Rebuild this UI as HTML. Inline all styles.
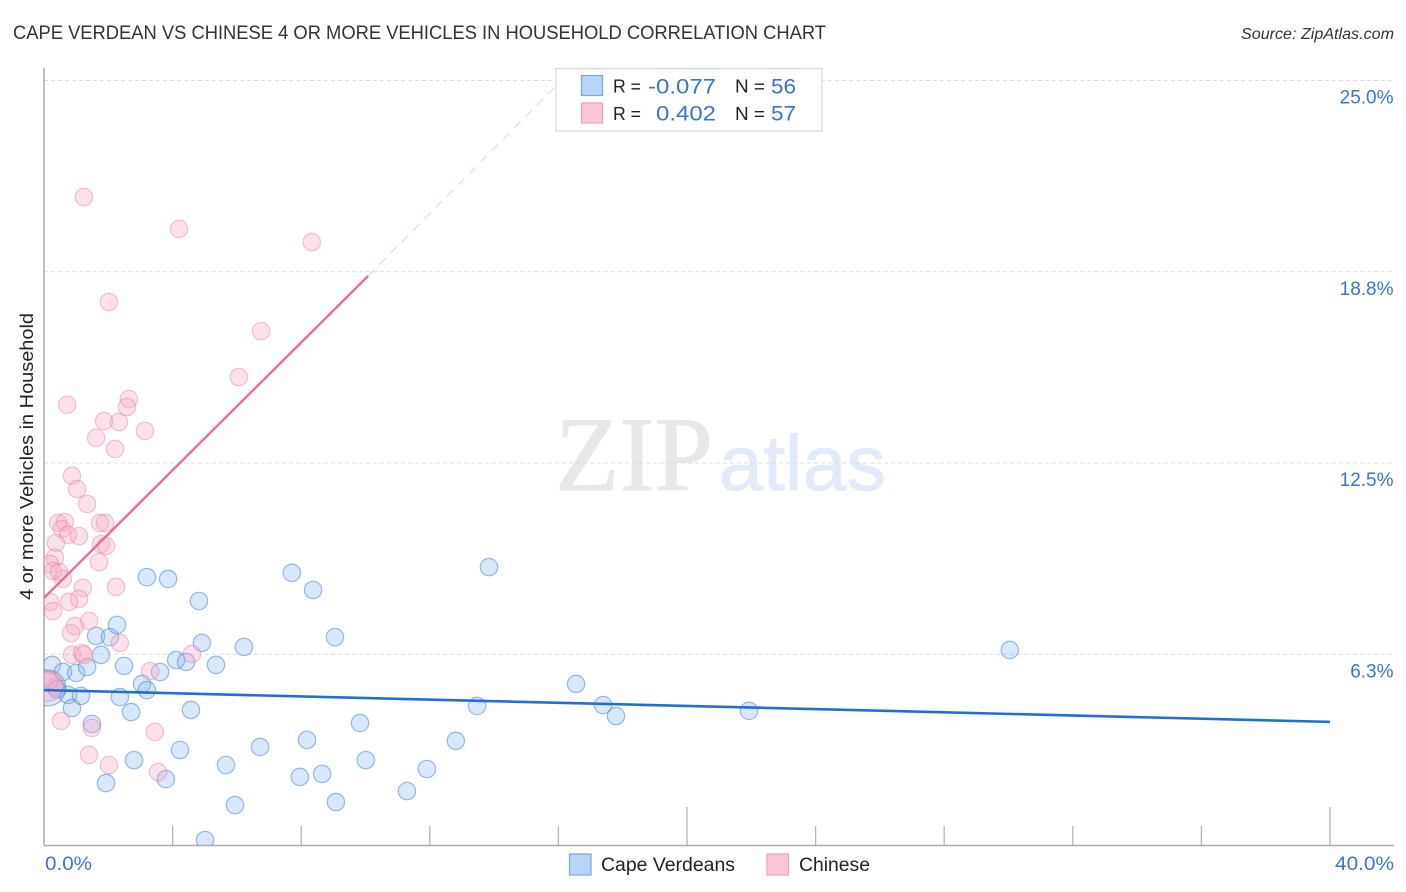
<!DOCTYPE html>
<html>
<head>
<meta charset="utf-8">
<style>
html,body{margin:0;padding:0;background:#fff;width:1406px;height:892px;overflow:hidden}
svg{display:block;font-family:"Liberation Sans",sans-serif}
</style>
</head>
<body>
<svg id="chart" width="1406" height="892" viewBox="0 0 1406 892" xmlns="http://www.w3.org/2000/svg">
  <defs><clipPath id="plot-clip"><rect x="44" y="68" width="1350" height="777"/></clipPath></defs>
  <text x="13" y="39" font-size="19" fill="#333" textLength="813" lengthAdjust="spacingAndGlyphs">CAPE VERDEAN VS CHINESE 4 OR MORE VEHICLES IN HOUSEHOLD CORRELATION CHART</text>
  <text x="1241" y="39" font-size="15.5" font-style="italic" fill="#333" textLength="153" lengthAdjust="spacingAndGlyphs">Source: ZipAtlas.com</text>
  <g>
    <text x="555" y="490" font-family="'Liberation Serif',serif" font-size="106" fill="#e8e8e8" stroke="#e8e8e8" stroke-width="1" textLength="158" lengthAdjust="spacingAndGlyphs">ZIP</text>
    <text x="719" y="490" font-size="78" fill="#e2ebfa" stroke="#e2ebfa" stroke-width="0.8" textLength="167" lengthAdjust="spacingAndGlyphs">atlas</text>
  </g>
  <g id="grid"></g>
  <g id="ticks"></g>
  <line x1="44" y1="68" x2="44" y2="845" stroke="#aaa" stroke-width="1.5"/>
  <line x1="44" y1="845.5" x2="1394" y2="845.5" stroke="#aaa" stroke-width="1.5"/>
  <g id="marks" clip-path="url(#plot-clip)"></g>
  <text transform="translate(33,600) rotate(-90)" x="0" y="0" font-size="18.5" fill="#222" textLength="287" lengthAdjust="spacingAndGlyphs">4 or more Vehicles in Household</text>
  <text x="45" y="870" font-size="19" fill="#3b74d0" textLength="47" lengthAdjust="spacingAndGlyphs">0.0%</text>
  <text x="1335" y="870" font-size="19" fill="#3b74d0" textLength="59" lengthAdjust="spacingAndGlyphs">40.0%</text>
  <g id="ylabels"></g>

  <g>
    <rect x="556" y="68.5" width="266" height="62.5" fill="#fff" stroke="#d8d8d8" stroke-width="1.2"/>
    <rect x="581.5" y="75.5" width="21" height="20" fill="#b8d4f8" stroke="#7aa7e0" stroke-width="1.2"/>
    <rect x="581.5" y="103" width="21" height="20" fill="#fcc6d8" stroke="#f0a0bc" stroke-width="1.2"/>
    <text x="613" y="92.5" font-size="18" fill="#222" textLength="28" lengthAdjust="spacingAndGlyphs">R =</text>
    <text x="648" y="93.5" font-size="21" fill="#3b74d0" textLength="68" lengthAdjust="spacingAndGlyphs">-0.077</text>
    <text x="735" y="92.5" font-size="18" fill="#222" textLength="30" lengthAdjust="spacingAndGlyphs">N =</text>
    <text x="771" y="93.5" font-size="21" fill="#3b74d0" textLength="25" lengthAdjust="spacingAndGlyphs">56</text>
    <text x="613" y="120" font-size="18" fill="#222" textLength="28" lengthAdjust="spacingAndGlyphs">R =</text>
    <text x="656" y="120.5" font-size="21" fill="#3b74d0" textLength="60" lengthAdjust="spacingAndGlyphs">0.402</text>
    <text x="735" y="120" font-size="18" fill="#222" textLength="30" lengthAdjust="spacingAndGlyphs">N =</text>
    <text x="771" y="120.5" font-size="21" fill="#3b74d0" textLength="25" lengthAdjust="spacingAndGlyphs">57</text>
  </g>

  <g>
    <rect x="569.5" y="854" width="21.5" height="21" fill="#b8d4f8" stroke="#7aa7e0" stroke-width="1.2"/>
    <text x="601" y="871" font-size="19" fill="#222" textLength="134" lengthAdjust="spacingAndGlyphs">Cape Verdeans</text>
    <rect x="767" y="854" width="21.5" height="21" fill="#fcc6d8" stroke="#f0a0bc" stroke-width="1.2"/>
    <text x="799" y="871" font-size="19" fill="#222" textLength="71" lengthAdjust="spacingAndGlyphs">Chinese</text>
  </g>
</svg>
<script>
// Series values: x = Cape Verdean %, y = 4+ vehicle households %
const blueX = [0.12,0.25,0.59,1.00,1.34,1.77,1.62,2.05,2.27,2.49,0.75,1.15,0.40,0.87,2.36,2.71,3.05,3.20,3.61,4.11,4.42,4.91,5.35,6.22,4.57,1.49,2.80,4.23,3.79,1.93,5.66,6.72,5.94,5.01,3.20,3.86,4.82,7.71,8.37,9.05,13.84,30.04,16.55,17.39,17.79,21.93,13.47,9.83,8.18,12.81,10.01,11.91,7.96,8.65,9.08,11.29];
const blueY = [5.15,5.90,5.67,5.64,5.83,6.23,6.85,6.81,7.21,5.87,4.92,4.89,5.11,4.49,4.85,4.36,5.28,5.08,5.67,6.06,6.00,6.62,5.90,6.49,4.43,3.97,2.79,3.12,2.17,2.04,2.63,3.22,1.32,0.18,8.77,8.71,7.99,8.91,8.35,6.81,9.10,6.39,5.28,4.59,4.23,4.40,4.56,4.00,3.45,3.42,2.79,2.50,2.24,2.34,1.42,1.78];
const pinkX = [1.34,0.44,0.65,0.56,0.75,1.09,1.74,1.90,0.37,1.77,1.93,1.71,0.34,0.19,0.28,0.47,0.59,2.24,1.21,1.09,0.78,0.19,0.28,1.40,0.96,0.84,2.36,0.87,1.18,1.24,4.60,3.30,0.34,0.19,0.53,1.49,3.45,1.40,2.02,3.55,1.24,4.20,8.33,2.02,6.75,6.06,0.72,2.64,2.58,1.87,2.33,3.14,1.62,2.21,0.87,1.03,0.12];
const pinkY = [11.16,10.54,10.57,10.34,10.15,10.11,10.54,10.54,9.89,9.85,9.79,9.26,9.40,9.20,8.97,8.94,8.71,8.45,8.42,8.06,7.96,7.96,7.66,7.34,7.17,6.94,6.62,6.23,6.29,6.23,6.26,5.70,5.18,5.41,4.07,3.84,3.71,2.96,2.63,2.40,21.19,20.15,19.72,17.76,16.81,15.31,14.40,14.59,14.33,13.87,13.84,13.55,13.32,12.96,12.08,11.65,5.21];
// Relative bubble weight (population); unspecified points are 1
const blueWeight = [4.3];
const pinkWeight = [1,1,1,1,1,1,1,1,1,1,1,1,1,1,1,1,1,1,1,1,1,1,1,1,1,1,1,1,1,1,1,1,1,1,1,1,1,1,1,1,1,1,1,1,1,1,1,1,1,1,1,1,1,1,1,1,3];
// Regression lines: [x start, y start, x end, y end]
const blueTrend = [0, 5.08, 40, 4.04];
const pinkTrend = [0, 8.09, 10.08, 18.61];
const pinkTrendExtension = [10.08, 18.61, 15.95, 24.85];
// Axis ticks
const yTicks = [25, 18.75, 12.5, 6.25];
const yTickLabels = ['25.0%','18.8%','12.5%','6.3%'];
const xTicks = [4,8,12,16,20,24,28,32,36,40];
const xTallTicks = [20,40];

const NS = 'http://www.w3.org/2000/svg';
const xScale = v => 44 + v * 32.15;
const yScale = v => 845.5 - v * 30.6;
function make(tag, attrs, parent) {
  const el = document.createElementNS(NS, tag);
  for (const k in attrs) el.setAttribute(k, attrs[k]);
  parent.appendChild(el);
  return el;
}
const gridG = document.getElementById('grid');
const ticksG = document.getElementById('ticks');
const marksG = document.getElementById('marks');
const ylabG = document.getElementById('ylabels');

yTicks.forEach((t, i) => {
  const g = make('line', {x1: 44, x2: 1394, y1: yScale(t), y2: yScale(t), stroke: '#dcdcdc', 'stroke-width': 1, 'stroke-dasharray': '4 3'}, gridG);
  
  
  const lab = make('text', {x: 1393.5, y: yScale(t) + 23, 'text-anchor': 'end', 'font-size': 19, fill: '#3b74d0'}, ylabG);
  lab.textContent = yTickLabels[i];
  
  
});

xTicks.forEach(t => {
  const tall = xTallTicks.includes(t);
  const k = make('line', {x1: xScale(t), x2: xScale(t), y1: tall ? 807 : 826, y2: 845, stroke: '#b5b5b5', 'stroke-width': 1.3}, ticksG);
  
  
});

function drawPoints(xs, ys, weights, fill, stroke, name) {
  xs.forEach((x, i) => {
    const w = weights[i] === undefined ? 1 : weights[i];
    const c = make('circle', {cx: xScale(x), cy: yScale(ys[i]), r: 8.7 * Math.sqrt(w), fill: fill, stroke: stroke, 'stroke-width': 1.2}, marksG);
    
    
  });
}
drawPoints(blueX, blueY, blueWeight, 'rgba(130,180,240,0.3)', 'rgba(70,135,215,0.55)', 'cape-verdean-point');
drawPoints(pinkX, pinkY, pinkWeight, 'rgba(248,165,190,0.32)', 'rgba(230,125,160,0.45)', 'chinese-point');

function drawLine(a, stroke, width, dash, name) {
  const l = make('line', {x1: xScale(a[0]), y1: yScale(a[1]), x2: xScale(a[2]), y2: yScale(a[3]), stroke: stroke, 'stroke-width': width}, marksG);
  if (dash) l.setAttribute('stroke-dasharray', dash);
  
  
}
drawLine(pinkTrendExtension, '#efd5de', 1.2, '9 7', 'chinese-trend-extension');
drawLine(pinkTrend, '#ea6d94', 2.4, null, 'chinese-trend-line');
drawLine(blueTrend, '#1f6fd6', 2.6, null, 'cape-verdean-trend-line');
</script>
</body>
</html>
